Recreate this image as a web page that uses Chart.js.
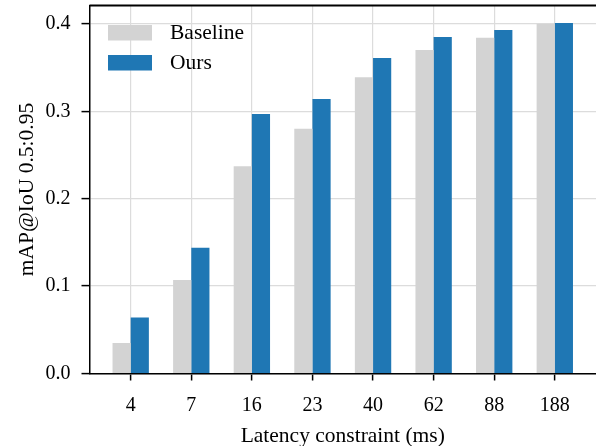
<!DOCTYPE html>
<html>
<head>
<meta charset="utf-8">
<script src="https://cdn.jsdelivr.net/npm/chart.js@4"></script>
<style>
html,body{margin:0;padding:0;background:#fff;}
#wrap{width:596px;height:446px;position:relative;}
</style>
</head>
<body>
<div id="wrap"><canvas id="c" width="596" height="446"></canvas></div>
<script>
const categories = ['4', '7', '16', '23', '40', '62', '88', '188'];
const baseline = [0.035, 0.107, 0.237, 0.280, 0.339, 0.370, 0.384, 0.400];
const ours = [0.064, 0.144, 0.297, 0.314, 0.361, 0.385, 0.393, 0.401];
const yTicks = [0.0, 0.1, 0.2, 0.3, 0.4];
const seriesNames = ['Baseline', 'Ours'];

const FONT = 'Liberation Serif';
const GRAY = '#d3d3d3';
const BLUE = '#1f77b4';

const insideLegend = {
  id: 'insideLegend',
  afterDraw(chart) {
    const ctx = chart.ctx;
    const a = chart.chartArea;
    ctx.save();
    // top frame line
    ctx.strokeStyle = '#000';
    ctx.lineWidth = 1.8;
    ctx.beginPath();
    ctx.moveTo(a.left, a.top);
    ctx.lineTo(a.right, a.top);
    ctx.stroke();
    // legend
    const x0 = a.left + 18.5;
    const y0 = a.top + 19.5;
    chart.data.datasets.forEach((ds, i) => {
      const y = y0 + i * 30;
      ctx.fillStyle = ds.backgroundColor;
      ctx.fillRect(x0, y, 44, 15.5);
      ctx.fillStyle = '#000';
      ctx.font = '21.5px "' + FONT + '"';
      ctx.textBaseline = 'middle';
      ctx.textAlign = 'left';
      ctx.fillText(ds.label, x0 + 62, y + 8.5);
    });
    ctx.restore();
  }
};

new Chart(document.getElementById('c'), {
  type: 'bar',
  data: {
    datasets: [
      {
        label: seriesNames[0],
        data: baseline.map((v, i) => ({x: i, y: v})),
        backgroundColor: GRAY,
        borderWidth: 0,
        categoryPercentage: 0.6,
        barPercentage: 1.0,
        grouped: true
      },
      {
        label: seriesNames[1],
        data: ours.map((v, i) => ({x: i, y: v})),
        backgroundColor: BLUE,
        borderWidth: 0,
        categoryPercentage: 0.6,
        barPercentage: 1.0,
        grouped: true
      }
    ]
  },
  options: {
    responsive: false,
    animation: false,
    devicePixelRatio: 1,
    layout: {padding: {top: 5.5, right: 0, left: 0, bottom: 0}},
    plugins: {
      legend: {display: false},
      tooltip: {enabled: false}
    },
    scales: {
      x: {
        type: 'linear',
        min: -0.68,
        max: 7.68,
        offset: false,
        afterBuildTicks: (s) => { s.ticks = categories.map((_, i) => ({value: i})); },
        afterFit: (s) => { s.height = 72.5; s.paddingLeft = 0; s.paddingRight = 0; },
        ticks: {
          callback: (v) => categories[v],
          color: '#000',
          font: {family: FONT, size: 20},
          padding: 13,
          maxRotation: 0,
          autoSkip: false
        },
        grid: {
          offset: false,
          color: '#dcdcdc',
          lineWidth: 1.2,
          tickColor: '#000',
          tickLength: 7,
          tickWidth: 1.5
        },
        border: {display: true, color: '#000', width: 1.5},
        title: {
          display: true,
          text: 'Latency constraint (ms)',
          color: '#000',
          font: {family: FONT, size: 21.5, lineHeight: 0.9},
          padding: {top: 0, bottom: 0}
        }
      },
      y: {
        min: 0,
        max: 0.421,
        afterBuildTicks: (s) => { s.ticks = yTicks.map(v => ({value: v})); },
        afterFit: (s) => { s.width = 89.5; s.paddingTop = 0; s.paddingBottom = 0; },
        ticks: {
          callback: (v) => Number(v).toFixed(1),
          color: '#000',
          font: {family: FONT, size: 20},
          padding: 11
        },
        grid: {
          color: '#dcdcdc',
          lineWidth: 1.2,
          tickColor: '#000',
          tickLength: 8,
          tickWidth: 1.5
        },
        border: {display: true, color: '#000', width: 1.5},
        title: {
          display: true,
          text: 'mAP@IoU 0.5:0.95',
          color: '#000',
          font: {family: FONT, size: 21.5},
          padding: {top: 14, bottom: 4}
        }
      }
    }
  },
  plugins: [insideLegend]
});
</script>
</body>
</html>
